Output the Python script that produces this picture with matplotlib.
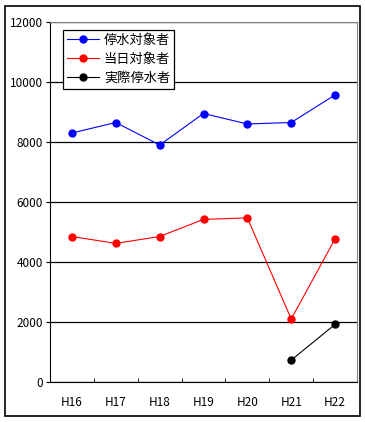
import matplotlib
matplotlib.use('Agg')
import matplotlib.pyplot as plt
from matplotlib.patches import Rectangle
import numpy as np

plt.rcParams['font.family'] = ['Noto Sans CJK JP', 'DejaVu Sans']

years = ["H16", "H17", "H18", "H19", "H20", "H21", "H22"]
taishou = [8300, 8650, 7900, 8950, 8600, 8650, 9570]
toujitsu = [4850, 4620, 4850, 5420, 5470, 2100, 4770]
jissai = [None, None, None, None, None, 730, 1920]

fig = plt.figure(figsize=(3.65, 4.22), dpi=100)
ax = fig.add_axes([50 / 365, 1 - 382 / 422, 307 / 365, 360 / 422])

x = np.arange(len(years))
ax.plot(x, taishou, color="blue", marker="o", markersize=5, lw=0.8, label="停水対象者")
ax.plot(x, toujitsu, color="red", marker="o", markersize=5, lw=0.8, label="当日対象者")
jx = [i for i, v in enumerate(jissai) if v is not None]
jy = [v for v in jissai if v is not None]
ax.plot(jx, jy, color="black", marker="o", markersize=5, lw=0.8, label="実際停水者")

ax.set_xlim(-0.5, len(years) - 0.5)
ax.set_ylim(0, 12000)
ax.set_yticks(range(0, 12001, 2000))
ax.set_yticklabels([str(v) for v in range(0, 12001, 2000)], fontsize=8.5)
ax.yaxis.grid(True, color="black", lw=0.9)
ax.set_axisbelow(True)
ax.tick_params(axis="y", length=3, direction="out", pad=2)

ax.set_xticks(x)
ax.set_xticklabels(years, fontsize=8.5)
ax.tick_params(axis="x", which="major", length=0, pad=10)
ax.set_xticks(np.arange(0.5, len(years) - 0.5, 1), minor=True)
ax.tick_params(axis="x", which="minor", length=3, direction="in")

ax.spines["top"].set_color("gray")
ax.spines["right"].set_color("gray")
for s in ["left", "bottom"]:
    ax.spines[s].set_color("black")

leg = ax.legend(loc="upper left", bbox_to_anchor=(13 / 307, 352 / 360), fontsize=9.5,
                frameon=True, fancybox=False, edgecolor="black", framealpha=1,
                borderpad=0.3, handlelength=2.4, handletextpad=0.4, labelspacing=0.45,
                borderaxespad=0)
leg.get_frame().set_linewidth(0.9)

fig.patches.append(Rectangle((5 / 365, 6 / 422), 355 / 365, 410 / 422, transform=fig.transFigure,
                             fill=False, edgecolor="black", lw=1.2))

fig.savefig("out.png", dpi=100)
